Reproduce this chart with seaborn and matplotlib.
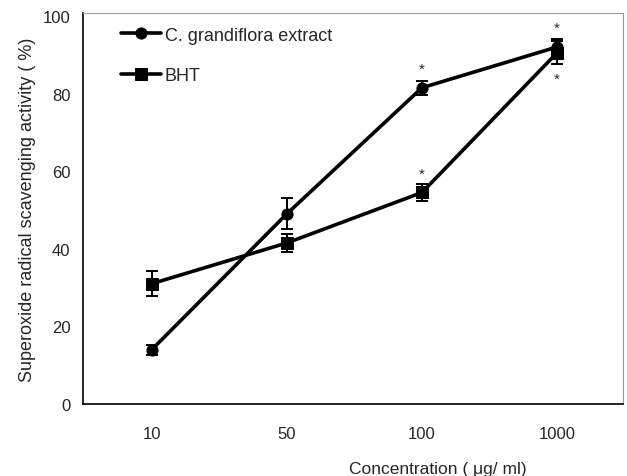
import matplotlib
matplotlib.use("Agg")
import matplotlib.pyplot as plt
import seaborn as sns
import pandas as pd
import numpy as np

concentrations = ["10", "50", "100", "1000"]
extract_mean = [14.0, 49.0, 81.5, 92.0]
extract_err = [1.3, 4.0, 1.8, 2.0]
bht_mean = [31.0, 41.5, 54.5, 90.5]
bht_err = [3.3, 2.4, 2.2, 3.0]
series_names = ["C. grandiflora extract", "BHT"]
# significance markers: (category, y value)
stars = [("100", 86.5), ("100", 59.3), ("1000", 96.9), ("1000", 83.9)]
yticks = [0, 20, 40, 60, 80, 100]

sns.set_style("white")
plt.rcParams["font.family"] = ["Liberation Sans", "DejaVu Sans"]

df = pd.DataFrame({
    "conc": concentrations * 2,
    "value": extract_mean + bht_mean,
    "series": [series_names[0]] * 4 + [series_names[1]] * 4,
})

fig = plt.figure(figsize=(6.27, 4.77), dpi=100)
ax = fig.add_axes([0.132, 0.151, 0.862, 0.820])

sns.lineplot(data=df, x="conc", y="value", hue="series", style="series",
             markers={series_names[0]: "o", series_names[1]: "s"}, dashes=False,
             palette={series_names[0]: "black", series_names[1]: "black"},
             linewidth=2.6, markersize=8, markeredgecolor="black", ax=ax,
             sort=False)

pos = np.arange(len(concentrations))
ax.errorbar(pos, extract_mean, yerr=extract_err, fmt="none", ecolor="black",
            elinewidth=1.4, capsize=4, capthick=1.4, zorder=5)
ax.errorbar(pos, bht_mean, yerr=bht_err, fmt="none", ecolor="black",
            elinewidth=1.4, capsize=4, capthick=1.4, zorder=5)

for c, yv in stars:
    ax.text(concentrations.index(c), yv, "*", ha="center", va="center", fontsize=11)

ax.set_xlim(-0.511, 3.49)
ax.set_ylim(0, 100.8)
ax.set_yticks(yticks)
ax.set_yticklabels([str(t) for t in yticks], fontsize=12)
ax.tick_params(axis="x", labelsize=12, length=0, pad=16)
ax.tick_params(axis="y", length=0, pad=9)
ax.set_xlabel("Concentration ( \u03bcg/ ml)", fontsize=12.5)
ax.xaxis.set_label_coords(0.656, -0.145)
ax.set_ylabel("Superoxide radical scavenging activity ( %)", fontsize=13, labelpad=5)

for side in ["left", "bottom"]:
    ax.spines[side].set_color("black")
    ax.spines[side].set_linewidth(1.2)
for side in ["top", "right"]:
    ax.spines[side].set_color("#999999")
    ax.spines[side].set_linewidth(0.8)

leg = ax.legend(loc="upper left", bbox_to_anchor=(0.041, 1.006), frameon=False,
                fontsize=13, handlelength=2.2, handletextpad=0.2,
                labelspacing=1.3, title=None)
for h in leg.legend_handles:
    h.set_linewidth(2.6)

fig.savefig("out.png", dpi=100)
